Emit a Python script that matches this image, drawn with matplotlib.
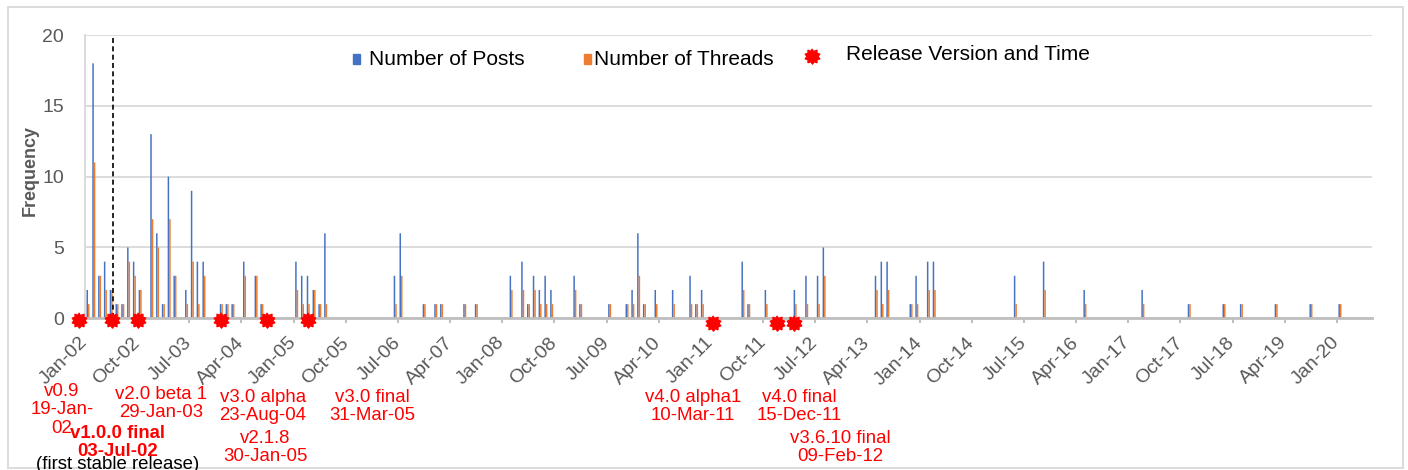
import matplotlib.pyplot as plt
import numpy as np
import pandas as pd
from matplotlib.patches import Rectangle
from matplotlib.lines import Line2D

plt.rcParams['font.family'] = ['Liberation Sans', 'DejaVu Sans']

W, H = 1408, 470

# months with forum activity
months = ['2002-01', '2002-02', '2002-03', '2002-04', '2002-05', '2002-06', '2002-07',
          '2002-08', '2002-09', '2002-10', '2002-12', '2003-01', '2003-02', '2003-03',
          '2003-04', '2003-06', '2003-07', '2003-08', '2003-09', '2003-12', '2004-01',
          '2004-02', '2004-04', '2004-06', '2004-07', '2005-01', '2005-02', '2005-03',
          '2005-04', '2005-05', '2005-06', '2006-06', '2006-07', '2006-11', '2007-01',
          '2007-02', '2007-06', '2007-08', '2008-02', '2008-04', '2008-05', '2008-06',
          '2008-07', '2008-08', '2008-09', '2009-01', '2009-02', '2009-07', '2009-10',
          '2009-11', '2009-12', '2010-01', '2010-03', '2010-06', '2010-09', '2010-10',
          '2010-11', '2011-06', '2011-07', '2011-10', '2012-03', '2012-05', '2012-07',
          '2012-08', '2013-05', '2013-06', '2013-07', '2013-11', '2013-12', '2014-02',
          '2014-03', '2015-05', '2015-10', '2016-05', '2017-03', '2017-11', '2018-05',
          '2018-08', '2019-02', '2019-08', '2020-01']
posts = [2, 18, 3, 4, 2, 1, 1, 5, 4, 2, 13, 6, 1, 10, 3, 2, 9, 4, 4, 1, 1,
         1, 4, 3, 1, 4, 3, 3, 2, 1, 6, 3, 6, 1, 1, 1, 1, 1, 3, 4, 1, 3,
         2, 3, 2, 3, 1, 1, 1, 2, 6, 1, 2, 2, 3, 1, 2, 4, 1, 2, 2, 3, 3,
         5, 3, 4, 4, 1, 3, 4, 4, 3, 4, 2, 2, 1, 1, 1, 1, 1, 1]
threads = [1, 11, 3, 2, 2, 1, 1, 4, 3, 2, 7, 5, 1, 7, 3, 1, 4, 1, 3, 1, 1,
           1, 3, 3, 1, 2, 1, 1, 2, 1, 1, 1, 3, 1, 1, 1, 1, 1, 2, 2, 1, 2,
           1, 1, 1, 2, 1, 1, 1, 1, 3, 1, 1, 1, 1, 1, 1, 2, 1, 1, 1, 1, 1,
           3, 2, 1, 2, 1, 1, 2, 2, 1, 2, 1, 1, 1, 1, 1, 1, 1, 1]

tick_labels = ['Jan-02', 'Oct-02', 'Jul-03', 'Apr-04', 'Jan-05', 'Oct-05', 'Jul-06',
               'Apr-07', 'Jan-08', 'Oct-08', 'Jul-09', 'Apr-10', 'Jan-11', 'Oct-11',
               'Jul-12', 'Apr-13', 'Jan-14', 'Oct-14', 'Jul-15', 'Apr-16', 'Jan-17',
               'Oct-17', 'Jul-18', 'Apr-19', 'Jan-20']

# release markers, placed as in the original (months from Jan-02)
release_x = [-1.03, 4.66, 9.14, 23.46, 31.4, 38.47, 108.3, 119.4, 122.3]
release_y = [-0.12, -0.12, -0.12, -0.12, -0.12, -0.12, -0.3, -0.3, -0.3]
stable_x = 4.83

dt = pd.to_datetime(months)
idx = np.array((dt.year - 2002) * 12 + dt.month - 1, dtype=float)

fig = plt.figure(figsize=(W / 100, H / 100), dpi=100)
ax = fig.add_axes([85 / W, 1 - 318.3 / H, (1371.7 - 85) / W, (318.3 - 35) / H])

ax.bar(idx + 0.39, posts, width=0.26, color='#4472C4', lw=0, snap=False, zorder=2)
ax.bar(idx + 0.65, threads, width=0.26, color='#ED7D31', lw=0, snap=False, zorder=2)

ax.set_xlim(0, 222)
ax.set_ylim(0, 20)
ax.set_yticks([0, 5, 10, 15, 20])
ax.yaxis.grid(True, color='#D9D9D9', lw=1.3)
ax.set_axisbelow(True)
for s in ['top', 'right']:
    ax.spines[s].set_visible(False)
ax.spines['left'].set_color('#D9D9D9')
ax.spines['left'].set_linewidth(1.3)
ax.spines['bottom'].set_color('#BFBFBF')
ax.spines['bottom'].set_linewidth(2)

ax.set_xticks(np.arange(0, 217, 9))
ax.set_xticklabels(tick_labels, rotation=45, ha='right', va='center',
                   rotation_mode='anchor', fontsize=14, color='#595959')
ax.tick_params(axis='x', length=3.6, width=1.5, color='#BFBFBF', pad=12)
ax.tick_params(axis='y', length=0, pad=15, labelsize=14, labelcolor='#595959')

fig.text(30 / W, 1 - 170 / H, 'Frequency', rotation=90, ha='center', va='center',
         fontsize=13, fontweight='bold', color='#595959')

ax.axvline(stable_x, color='black', ls=(0, (3, 2)), lw=1.2, zorder=3)

# starburst marker
n = 10
ang = np.linspace(0, 2 * np.pi, 2 * n, endpoint=False) + np.pi / 2
r = np.where(np.arange(2 * n) % 2 == 0, 1.0, 0.72)
star = np.column_stack([r * np.cos(ang), r * np.sin(ang)])

ax.plot(release_x, release_y, ls='none', marker=star, markersize=11,
        color='#FF0000', clip_on=False, zorder=5)

# legend (placed by hand like the original)
fig.patches.append(Rectangle((353 / W, 1 - 64 / H), 7 / W, 10 / H,
                             transform=fig.transFigure, color='#4472C4'))
fig.text(369 / W, 1 - 65 / H, 'Number of Posts', fontsize=15, va='baseline')
fig.patches.append(Rectangle((584 / W, 1 - 64 / H), 7 / W, 10 / H,
                             transform=fig.transFigure, color='#ED7D31'))
fig.text(594 / W, 1 - 65 / H, 'Number of Threads', fontsize=15, va='baseline')
fig.lines.append(Line2D([812 / W], [1 - 56 / H], transform=fig.transFigure,
                        ls='none', marker=star, markersize=11, color='#FF0000'))
fig.text(846 / W, 1 - 60 / H, 'Release Version and Time', fontsize=15, va='baseline')

# release annotations
notes = [
    (62, 383, 'v0.9\n19-Jan-\n02', 'normal', '#FF0000'),
    (118, 425, 'v1.0.0 final\n03-Jul-02', 'bold', '#FF0000'),
    (118, 456, '(first stable release)', 'normal', 'black'),
    (161, 386, 'v2.0 beta 1\n29-Jan-03', 'normal', '#FF0000'),
    (263, 389, 'v3.0 alpha\n23-Aug-04', 'normal', '#FF0000'),
    (265, 430, 'v2.1.8\n30-Jan-05', 'normal', '#FF0000'),
    (372, 389, 'v3.0 final\n31-Mar-05', 'normal', '#FF0000'),
    (693, 389, 'v4.0 alpha1\n10-Mar-11', 'normal', '#FF0000'),
    (799, 389, 'v4.0 final\n15-Dec-11', 'normal', '#FF0000'),
    (840, 430, 'v3.6.10 final\n09-Feb-12', 'normal', '#FF0000'),
]
for x, y, txt, fw, c in notes:
    fig.text(x / W, 1 - y / H, txt, ha='center', va='top', fontsize=13.4,
             fontweight=fw, color=c, linespacing=1.1, multialignment='center')

# chart area border
fig.patches.append(Rectangle((8.3 / W, 1 - 468 / H), (1403.3 - 8.3) / W, (468 - 7.3) / H,
                             transform=fig.transFigure, fill=False,
                             edgecolor='#D9D9D9', lw=1.3))

fig.savefig('out.png', dpi=100)
